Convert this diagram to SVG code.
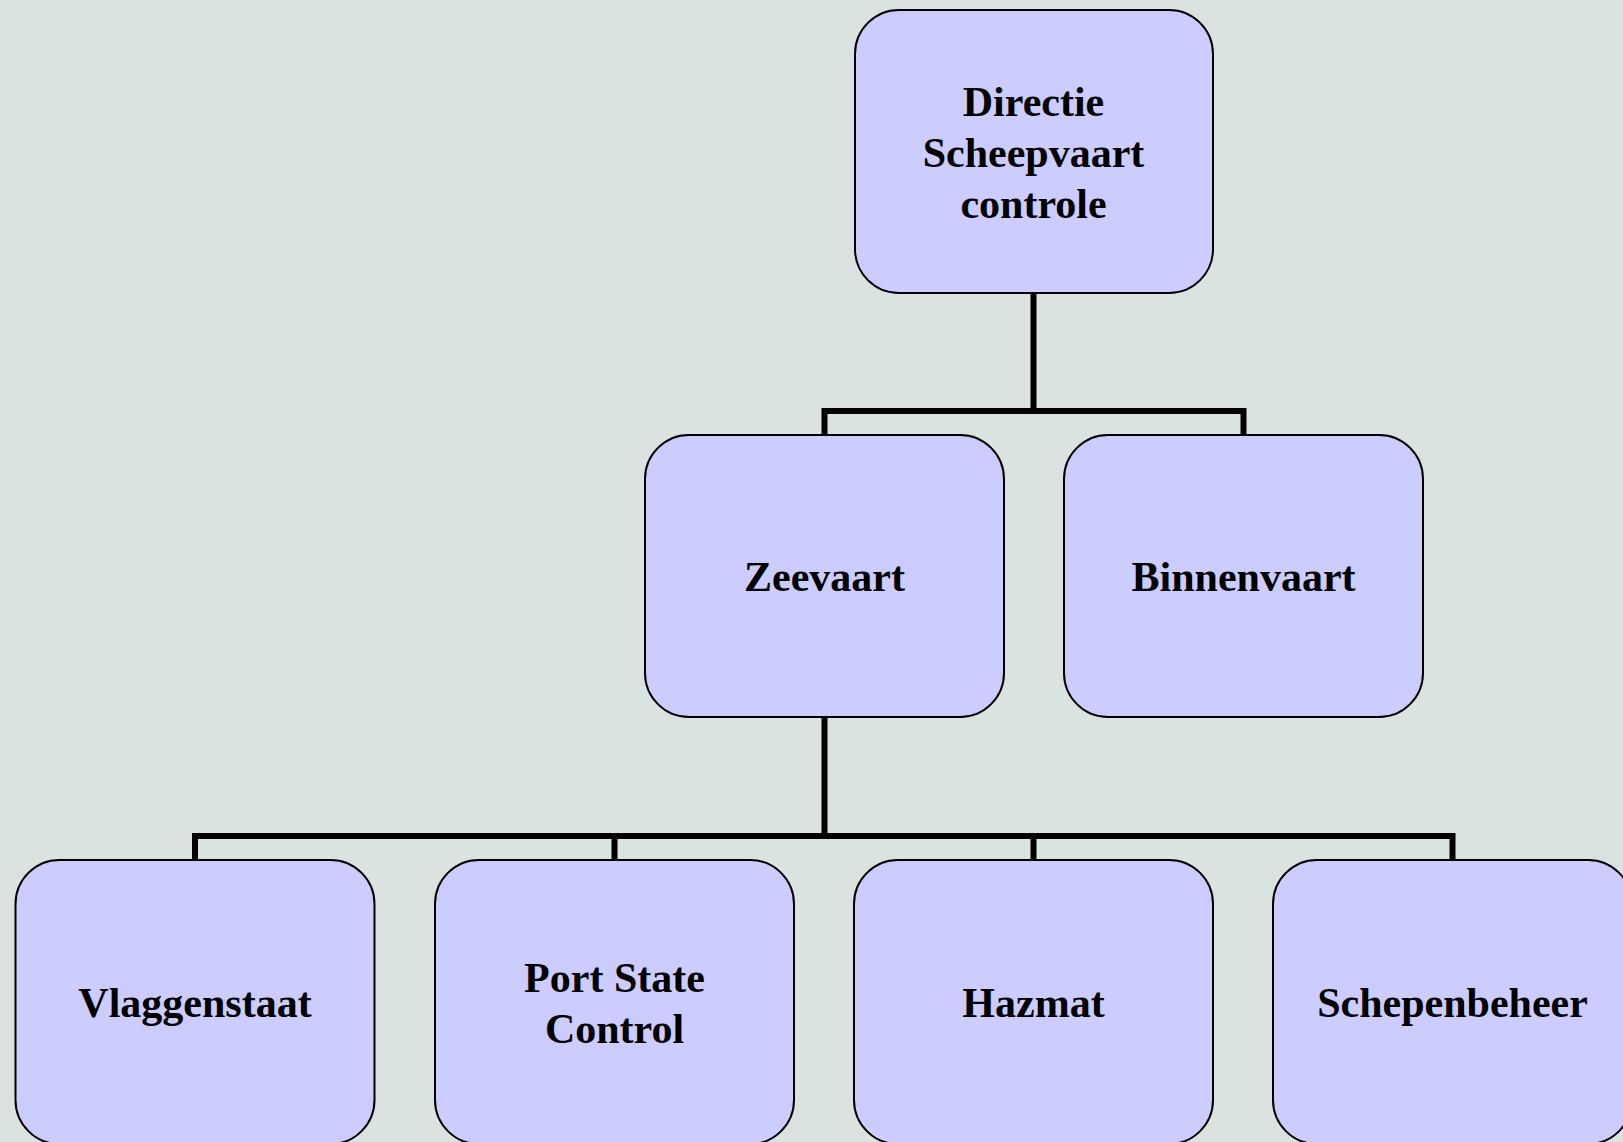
<svg xmlns="http://www.w3.org/2000/svg" width="1623" height="1142" viewBox="0 0 1623 1142">
<style>
.box{fill:#CCCCFF;stroke:#000;stroke-width:2}
.lbl{font-family:"Liberation Serif","Times New Roman",serif;font-weight:bold;font-size:42px;fill:#000;text-anchor:middle}
.con{fill:none;stroke:#000;stroke-width:6;stroke-linecap:square}
</style>
<rect width="1623" height="1142" fill="#DAE3E0"/>
<g id="connectors">
<path class="con" d="M1033.5,293 V411 M824.5,435 V411 H1243.5 V435"/>
<path class="con" d="M824.5,717 V836 M195,860 V836 H1452.5 V860 M614.5,836 V860 M1033.5,836 V860"/>
</g>
<g id="n-directie">
<rect class="box" x="855" y="10" width="358" height="283" rx="44" ry="44"/>
<text class="lbl" x="1033.5" y="116">Directie</text>
<text class="lbl" x="1033.5" y="167">Scheepvaart</text>
<text class="lbl" x="1033.5" y="218">controle</text>
</g>
<g id="n-zeevaart">
<rect class="box" x="645" y="435" width="359" height="282" rx="44" ry="44"/>
<text class="lbl" x="824.5" y="591">Zeevaart</text>
</g>
<g id="n-binnenvaart">
<rect class="box" x="1064" y="435" width="359" height="282" rx="44" ry="44"/>
<text class="lbl" x="1243.5" y="591">Binnenvaart</text>
</g>
<g id="n-vlaggenstaat">
<rect class="box" x="15.5" y="860" width="359" height="284" rx="44" ry="44"/>
<text class="lbl" x="195" y="1017">Vlaggenstaat</text>
</g>
<g id="n-portstate">
<rect class="box" x="435" y="860" width="359" height="284" rx="44" ry="44"/>
<text class="lbl" x="614.5" y="992">Port State</text>
<text class="lbl" x="614.5" y="1043">Control</text>
</g>
<g id="n-hazmat">
<rect class="box" x="854" y="860" width="359" height="284" rx="44" ry="44"/>
<text class="lbl" x="1033.5" y="1017">Hazmat</text>
</g>
<g id="n-schepenbeheer">
<rect class="box" x="1273" y="860" width="359" height="284" rx="44" ry="44"/>
<text class="lbl" x="1452.5" y="1017">Schepenbeheer</text>
</g>
</svg>
